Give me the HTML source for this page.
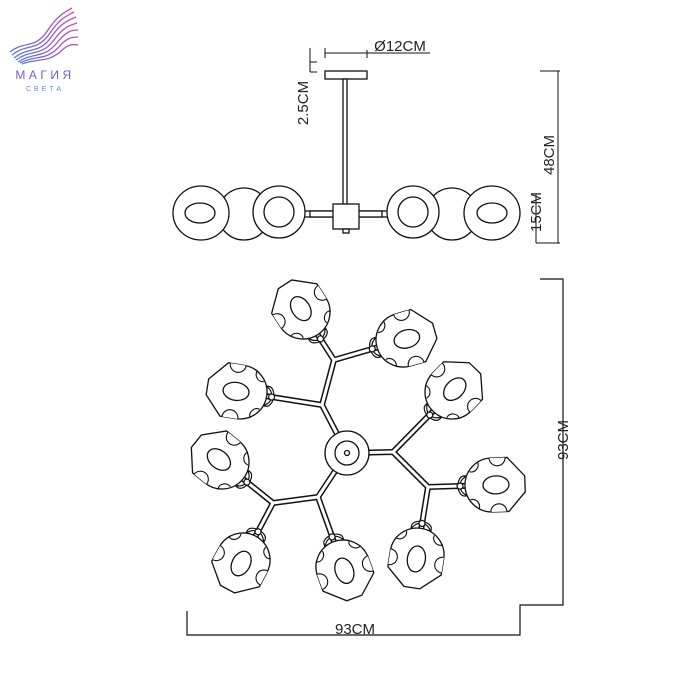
<!DOCTYPE html>
<html><head><meta charset="utf-8"><style>
html,body{margin:0;padding:0;background:#fff;width:700px;height:700px;overflow:hidden}
svg{display:block}
text{font-family:"Liberation Sans",Arial,sans-serif;fill:#222}
</style></head><body>
<svg width="700" height="700" viewBox="0 0 700 700" xmlns="http://www.w3.org/2000/svg">
<defs>
<linearGradient id="lg" x1="0" y1="0" x2="1" y2="0">
<stop offset="0" stop-color="#5a7fd8"/><stop offset="0.5" stop-color="#8a5fd0"/><stop offset="1" stop-color="#c04fb8"/>
</linearGradient>
<g id="shade">
<path d="M -10,22 A 10 10 0 0 0 10,22 L 10,28 A 10 6 0 0 1 -10,28 Z" fill="#fff" stroke="#111" stroke-width="1.2"/>
<circle cx="0" cy="32" r="3" fill="#fff" stroke="#111" stroke-width="1.2"/>
<path d="M -27,-16 L -8,-33 L 8,-33 L 27,-16 L 27,0 A 27 27 0 0 1 -27,0 Z" fill="#fff" stroke="#111" stroke-width="1.3"/>
<ellipse cx="0" cy="-4" rx="9" ry="13" fill="#fff" stroke="#111" stroke-width="1.3"/>
<path d="M 27,-14 A 7 7 0 0 0 27,2" fill="#fff" stroke="#111" stroke-width="1.1"/>
<path d="M -27,-14 A 7 7 0 0 1 -27,2" fill="#fff" stroke="#111" stroke-width="1.1"/>
<path d="M -24,14 A 7 7 0 0 1 -14,22" fill="none" stroke="#111" stroke-width="1.1"/>
<path d="M 24,14 A 7 7 0 0 0 14,22" fill="none" stroke="#111" stroke-width="1.1"/>
</g>
</defs>

<!-- logo -->
<g fill="none" stroke="url(#lg)" stroke-width="1.3">
<path d="M10,52 C25,40 35,50 48,30 C58,15 65,12 72,8"/>
<path d="M12,55 C27,43 37,52 50,33 C60,18 67,16 74,12"/>
<path d="M14,58 C29,46 39,55 52,36 C62,22 69,20 76,17"/>
<path d="M16,60 C31,49 41,57 54,40 C64,26 71,25 77,23"/>
<path d="M18,62 C33,52 43,59 56,44 C66,31 72,30 78,30"/>
<path d="M20,63 C35,55 45,61 58,48 C67,37 73,37 78,37"/>
<path d="M22,64 C37,58 47,63 60,52 C68,44 73,44 78,45"/>
</g>
<text x="45" y="79" font-size="12" letter-spacing="3.5" text-anchor="middle" style="fill:#7a5bc8">МАГИЯ</text>
<text x="45" y="91" font-size="7" letter-spacing="3" text-anchor="middle" style="fill:#6a8ad0">СВЕТА</text>

<!-- side view -->
<g stroke="#111" stroke-width="1.3" fill="#fff">
<line x1="325" y1="53" x2="367" y2="53" stroke-width="1"/>
<line x1="325" y1="48" x2="325" y2="58" stroke-width="1"/>
<line x1="367" y1="50" x2="367" y2="58" stroke-width="1"/>
<line x1="367" y1="53" x2="430" y2="53" stroke-width="1"/>
<line x1="310" y1="48" x2="310" y2="72" stroke-width="1"/>
<line x1="310" y1="62" x2="317" y2="62" stroke-width="1"/>
<line x1="310" y1="72" x2="317" y2="72" stroke-width="1"/>
<rect x="325" y="71" width="42" height="8"/>
<rect x="343" y="79" width="4" height="126"/>
<rect x="240" y="211" width="212" height="6"/>
<circle cx="244" cy="214" r="26"/>
<ellipse cx="201" cy="213" rx="28" ry="27"/>
<circle cx="279" cy="212" r="26"/>
<circle cx="279" cy="212" r="15"/>
<circle cx="452" cy="214" r="26"/>
<ellipse cx="492" cy="213" rx="28" ry="27"/>
<circle cx="413" cy="212" r="26"/>
<circle cx="413" cy="212" r="15"/>
<ellipse cx="200" cy="213" rx="15" ry="10"/>
<ellipse cx="492" cy="213" rx="15" ry="10"/>
<rect x="310" y="211" width="72" height="6"/>
<rect x="333" y="204" width="26" height="25"/>
<rect x="343" y="229" width="6" height="4"/>
<line x1="540" y1="71" x2="560" y2="71" stroke-width="1"/>
<line x1="558" y1="71" x2="558" y2="243" stroke-width="1"/>
<line x1="536" y1="243" x2="560" y2="243" stroke-width="1"/>
<line x1="536" y1="194" x2="536" y2="243" stroke-width="1"/>
</g>
<text x="400" y="51" font-size="15" text-anchor="middle">Ø12CM</text>
<text transform="translate(308,103) rotate(-90)" font-size="15" text-anchor="middle">2.5CM</text>
<text transform="translate(554,155) rotate(-90)" font-size="15" text-anchor="middle">48CM</text>
<text transform="translate(541,212) rotate(-90)" font-size="15" text-anchor="middle">15CM</text>

<!-- top view dimension -->
<g stroke="#111" stroke-width="1.2" fill="none">
<polyline points="540,279 563,279 563,605 520,605 520,635 187,635 187,611"/>
</g>
<text transform="translate(568,440) rotate(-90)" font-size="15" text-anchor="middle">93CM</text>
<text x="355" y="634" font-size="15" text-anchor="middle">93CM</text>

<!-- arms -->
<g stroke="#111" stroke-width="6" stroke-linejoin="round" fill="none">
<polyline points="347,453 322,405 334,360"/>
<polyline points="347,453 393,452 428,487"/>
<polyline points="347,453 318,497 273,503"/>
<line x1="334" y1="360" x2="303" y2="312"/>
<line x1="334" y1="360" x2="403" y2="340"/>
<line x1="322" y1="405" x2="240" y2="392"/>
<line x1="393" y1="452" x2="452" y2="392"/>
<line x1="428" y1="487" x2="492" y2="485"/>
<line x1="428" y1="487" x2="417" y2="555"/>
<line x1="273" y1="503" x2="222" y2="462"/>
<line x1="273" y1="503" x2="243" y2="560"/>
<line x1="318" y1="497" x2="343" y2="567"/>
</g>
<g stroke="#fff" stroke-width="3" stroke-linejoin="round" fill="none">
<polyline points="347,453 322,405 334,360"/>
<polyline points="347,453 393,452 428,487"/>
<polyline points="347,453 318,497 273,503"/>
<line x1="334" y1="360" x2="303" y2="312"/>
<line x1="334" y1="360" x2="403" y2="340"/>
<line x1="322" y1="405" x2="240" y2="392"/>
<line x1="393" y1="452" x2="452" y2="392"/>
<line x1="428" y1="487" x2="492" y2="485"/>
<line x1="428" y1="487" x2="417" y2="555"/>
<line x1="273" y1="503" x2="222" y2="462"/>
<line x1="273" y1="503" x2="243" y2="560"/>
<line x1="318" y1="497" x2="343" y2="567"/>
</g>

<!-- shades -->
<use href="#shade" transform="translate(303,312) rotate(-33)"/>
<use href="#shade" transform="translate(403,340) rotate(74)"/>
<use href="#shade" transform="translate(240,392) rotate(-81)"/>
<use href="#shade" transform="translate(452,392) rotate(44)"/>
<use href="#shade" transform="translate(222,462) rotate(-51)"/>
<use href="#shade" transform="translate(492,485) rotate(88)"/>
<use href="#shade" transform="translate(243,560) rotate(-152)"/>
<use href="#shade" transform="translate(343,567) rotate(160)"/>
<use href="#shade" transform="translate(417,555) rotate(-171)"/>

<!-- center -->
<g stroke="#111" stroke-width="1.3" fill="#fff">
<circle cx="347" cy="453" r="22"/>
<circle cx="347" cy="453" r="12"/>
<circle cx="347" cy="453" r="2.5"/>
</g>
</svg>
</body></html>
